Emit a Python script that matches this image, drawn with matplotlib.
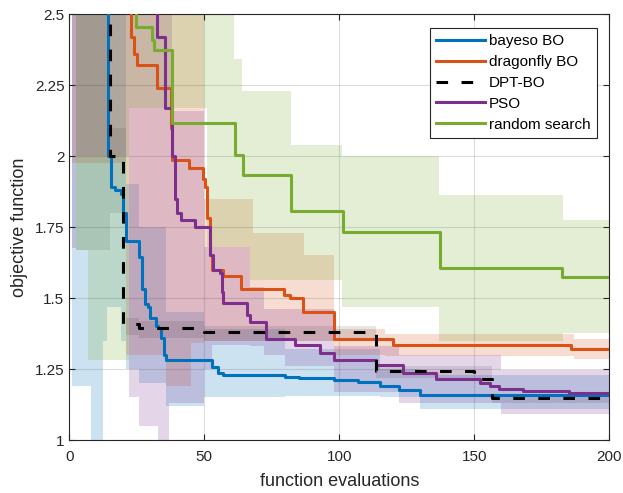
import numpy as np
import matplotlib.pyplot as plt

plt.rcParams['font.family'] = ['Liberation Sans', 'DejaVu Sans']

# ---- mean curves (x = change point, y = value from there on)
bayeso_x = [1, 14.5, 15.5, 17, 19, 20, 21, 26, 27, 28, 29, 30, 32, 33, 34, 35, 36, 53, 55, 57, 80, 85, 98, 107, 115, 122, 130, 170]
bayeso_y = [3.0, 2.0, 1.89, 1.88, 1.865, 1.80, 1.70, 1.645, 1.53, 1.48, 1.47, 1.43, 1.40, 1.394, 1.36, 1.30, 1.28, 1.258, 1.235, 1.23, 1.222, 1.218, 1.212, 1.203, 1.19, 1.175, 1.16, 1.157]

dragonfly_x = [1, 22.8, 23.8, 25, 32.5, 37.5, 38, 44.5, 49.5, 50.3, 51, 52, 53, 57, 63.5, 79.5, 81.7, 86.5, 98, 120, 186]
dragonfly_y = [3.0, 2.42, 2.36, 2.32, 2.24, 2.10, 1.986, 1.957, 1.92, 1.89, 1.78, 1.65, 1.60, 1.577, 1.53, 1.51, 1.50, 1.452, 1.356, 1.335, 1.32]

dpt_x = [1, 15, 20, 26, 50, 113.5, 150, 156.5]
dpt_y = [3.0, 2.0, 1.41, 1.395, 1.38, 1.243, 1.214, 1.148]

pso_x = [1, 32.5, 35.3, 38, 39, 40, 41.5, 46.5, 52, 53.3, 55.8, 56.5, 57, 66, 67, 73, 83.5, 93, 98, 113.5, 123.5, 136, 152, 156, 159, 168, 185]
pso_y = [3.0, 2.42, 2.168, 2.0, 1.85, 1.80, 1.775, 1.75, 1.65, 1.60, 1.587, 1.52, 1.481, 1.44, 1.414, 1.356, 1.333, 1.306, 1.283, 1.264, 1.235, 1.214, 1.20, 1.19, 1.18, 1.172, 1.165]

random_x = [1, 24.7, 30.5, 31.5, 38, 61.5, 64.5, 82, 101.5, 137.3, 182.5]
random_y = [3.0, 2.455, 2.41, 2.373, 2.117, 2.004, 1.933, 1.807, 1.733, 1.605, 1.575]

# ---- shaded spread (lower / upper), same step convention
bayeso_bx = [1, 8, 12.5, 14, 19, 21, 26, 36, 50, 80, 115, 130]
bayeso_lo = [1.19, 0.9, 1.35, 1.47, 1.35, 1.25, 1.20, 1.12, 1.15, 1.155, 1.15, 1.11]
bayeso_hi = [3.0, 3.0, 3.0, 3.0, 3.0, 1.9, 1.75, 1.45, 1.39, 1.32, 1.25, 1.23]

dragonfly_bx = [1, 21, 36, 45, 50, 68, 87, 98, 117, 187]
dragonfly_lo = [1.975, 1.30, 1.19, 1.34, 1.35, 1.35, 1.35, 1.30, 1.295, 1.285]
dragonfly_hi = [3.0, 3.0, 3.0, 3.0, 1.85, 1.73, 1.65, 1.39, 1.375, 1.355]

dpt_bx = [2.5, 15, 21, 26, 50, 113.5, 156.5]
dpt_lo = [1.67, 1.80, 1.37, 1.36, 1.35, 1.22, 1.13]
dpt_hi = [3.0, 2.1, 1.43, 1.42, 1.40, 1.26, 1.16]

pso_bx = [1, 2.5, 22, 26, 33, 37, 38, 50, 53, 67, 72, 80, 98, 122, 160]
pso_lo = [1.675, 2.0, 1.15, 1.05, 0.95, 1.13, 1.13, 1.25, 1.335, 1.33, 1.30, 1.26, 1.17, 1.13, 1.09]
pso_hi = [3.0, 3.0, 3.0, 3.0, 3.0, 3.0, 2.16, 1.68, 1.68, 1.54, 1.46, 1.46, 1.33, 1.30, 1.245]

random_bx = [2.5, 7, 22, 51, 61, 64, 67, 82, 101, 137, 183]
random_lo = [1.67, 1.28, 2.17, 1.68, 1.68, 1.68, 1.563, 1.563, 1.469, 1.35, 1.376]
random_hi = [3.0, 3.0, 3.0, 3.0, 2.34, 2.23, 2.23, 2.04, 2.0, 1.863, 1.775]

blue = (0.0, 0.447, 0.741)
orange = (0.85, 0.325, 0.098)
purple = (0.494, 0.184, 0.556)
green = (0.466, 0.674, 0.188)
axcol = (0.15, 0.15, 0.15)


def stairs(xs, ys):
    # extend the last value to the end of the run
    return np.append(xs, 200), np.append(ys, ys[-1])


fig = plt.figure(figsize=(6.23, 4.93), dpi=100)
ax = fig.add_axes([0.1112, 0.1075, 0.8668, 0.8641])

bands = [
    (bayeso_bx, bayeso_lo, bayeso_hi, blue, 0.2),
    (dragonfly_bx, dragonfly_lo, dragonfly_hi, orange, 0.2),
    (dpt_bx, dpt_lo, dpt_hi, 'k', 0.1),
    (pso_bx, pso_lo, pso_hi, purple, 0.2),
    (random_bx, random_lo, random_hi, green, 0.2),
]
for bx, lo, hi, c, a in bands:
    x, l = stairs(bx, lo)
    _, h = stairs(bx, hi)
    ax.fill_between(x, l, h, step='post', color=c, alpha=a, linewidth=0, zorder=1)

lw = 2.2
x, y = stairs(bayeso_x, bayeso_y)
ax.plot(x, y, drawstyle='steps-post', color=blue, lw=lw, label='bayeso BO', zorder=3)
x, y = stairs(dragonfly_x, dragonfly_y)
ax.plot(x, y, drawstyle='steps-post', color=orange, lw=lw, label='dragonfly BO', zorder=3)
x, y = stairs(dpt_x, dpt_y)
ax.plot(x, y, drawstyle='steps-post', color='k', lw=lw, ls=(0, (3.8, 4.4)), label='DPT-BO', zorder=4)
x, y = stairs(pso_x, pso_y)
ax.plot(x, y, drawstyle='steps-post', color=purple, lw=lw, label='PSO', zorder=3)
x, y = stairs(random_x, random_y)
ax.plot(x, y, drawstyle='steps-post', color=green, lw=lw, label='random search', zorder=3)

ax.set_xlim(0, 200)
ax.set_ylim(1, 2.5)
ax.set_xticks([0, 50, 100, 150, 200])
ax.set_yticks([1, 1.25, 1.5, 1.75, 2, 2.25, 2.5])
ax.set_yticklabels(['1', '1.25', '1.5', '1.75', '2', '2.25', '2.5'])
ax.grid(True, color=axcol, alpha=0.15, lw=0.8)
ax.set_axisbelow(False)
ax.tick_params(direction='in', top=True, right=True, labelsize=11, colors=axcol, length=4)
ax.tick_params(axis='x', pad=7)
for s in ax.spines.values():
    s.set_color(axcol)
    s.set_linewidth(0.8)
ax.set_xlabel('function evaluations', fontsize=13, color=axcol, labelpad=7)
ax.set_ylabel('objective function', fontsize=13, color=axcol, labelpad=5)

leg = ax.legend(loc='upper right', bbox_to_anchor=(0.9767, 0.967), borderaxespad=0, fontsize=11,
                handlelength=3.2, handletextpad=0.25, borderpad=0.4, labelspacing=0.45,
                fancybox=False, framealpha=1)
leg.get_frame().set_edgecolor(axcol)
leg.get_frame().set_linewidth(0.8)

fig.savefig('out.png', dpi=100)
